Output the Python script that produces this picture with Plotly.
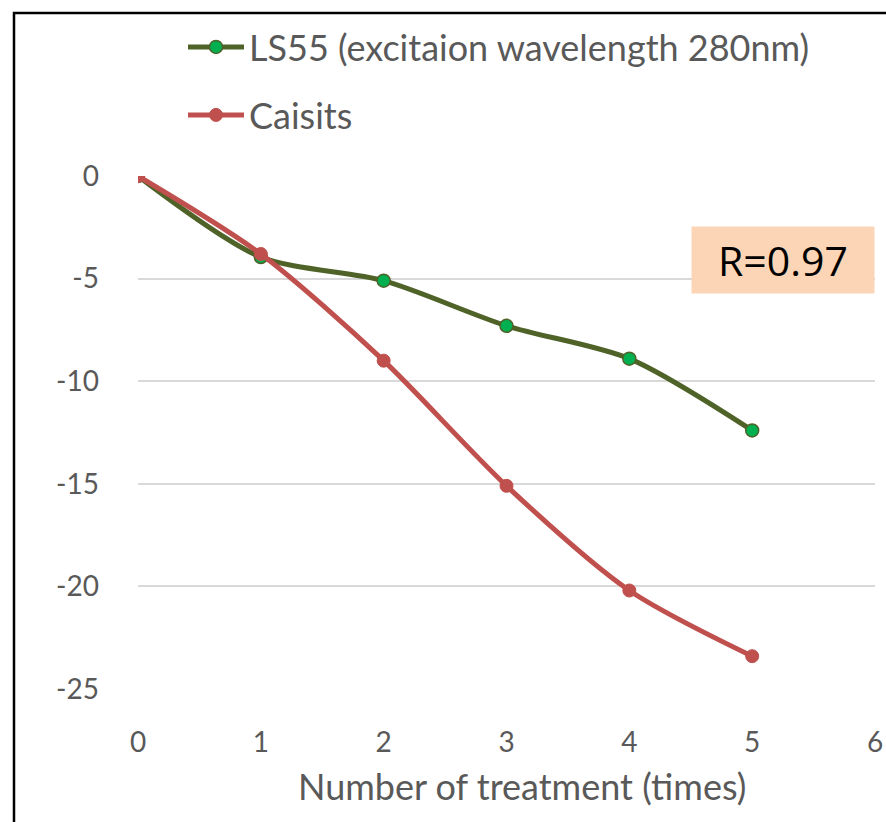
import plotly.graph_objects as go

treatments = [0, 1, 2, 3, 4, 5]
ls55_values = [0, -3.95, -5.1, -7.3, -8.9, -12.4]
caisits_values = [0, -3.8, -9.0, -15.1, -20.2, -23.4]
x_ticks = [0, 1, 2, 3, 4, 5, 6]
y_ticks = [0, -5, -10, -15, -20, -25]
y_tick_labels = ["0", "-5", "-10", "-15", "-20", "-25"]

GREY = "#595959"
FONT = "Lato"

# plot area in page pixels
PX0, PX1, PY0, PY1 = 138, 875, 176, 689
PW, PH = PX1 - PX0, PY1 - PY0


def px(x):
    return (x - PX0) / PW


def py(y):
    return (PY1 - y) / PH


fig = go.Figure()

fig.add_trace(go.Scatter(
    x=treatments, y=ls55_values,
    name="LS55 (excitaion wavelength 280nm)",
    mode="lines+markers",
    line=dict(color="#4F6228", width=5, shape="spline", smoothing=0.8),
    marker=dict(size=13, color="#00B050", line=dict(color="#4F6228", width=1.5)),
    legend="legend",
))
fig.add_trace(go.Scatter(
    x=treatments, y=caisits_values,
    name="Caisits",
    mode="lines+markers",
    line=dict(color="#C0504D", width=5, shape="spline", smoothing=0.8),
    marker=dict(size=13, color="#C0504D", line=dict(color="#C0504D", width=1)),
    legend="legend2",
))

fig.update_layout(
    width=886, height=822,
    margin=dict(l=PX0, r=886 - PX1, t=PY0, b=822 - PY1, autoexpand=False),
    paper_bgcolor="white",
    plot_bgcolor="white",
    font=dict(family=FONT, color=GREY, size=24),
    legend=dict(
        x=px(183), y=py(47),
        xanchor="left", yanchor="middle",
        font=dict(size=36, color=GREY, family=FONT),
        bgcolor="rgba(0,0,0,0)", itemwidth=56,
    ),
    legend2=dict(
        x=px(183), y=py(115),
        xanchor="left", yanchor="middle",
        font=dict(size=36, color=GREY, family=FONT),
        bgcolor="rgba(0,0,0,0)", itemwidth=56,
    ),
    showlegend=True,
)

fig.update_xaxes(
    range=[0, 6],
    tickvals=x_ticks,
    showgrid=False, zeroline=False, showline=False,
    ticks="", ticklabelstandoff=34,
    tickfont=dict(size=28, color=GREY),
)
fig.update_yaxes(
    range=[-25, 0],
    tickvals=y_ticks, ticktext=y_tick_labels,
    showgrid=True, gridcolor="#D9D9D9", gridwidth=2,
    zeroline=False, showline=False,
    ticks="", ticklabelstandoff=38,
    tickfont=dict(size=28, color=GREY),
)

# x axis title, sits a little right of centre in the original
fig.add_annotation(
    x=px(522), y=py(786), xref="paper", yref="paper",
    xanchor="center", yanchor="middle",
    text="Number of treatment (times)", showarrow=False,
    font=dict(size=36, color=GREY, family=FONT),
)

# R value box
fig.add_annotation(
    x=1.0, y=py(260), xref="paper", yref="paper",
    xanchor="right", yanchor="middle",
    text="R=0.97", showarrow=False,
    font=dict(size=41, color="black", family="Open Sans"),
    bgcolor="#FBD5B5", borderpad=11, width=160, height=44,
)

# outer frame (cropped at right and bottom)
fig.add_shape(
    type="rect", xref="paper", yref="paper",
    x0=px(14), x1=1.1, y0=-0.4, y1=py(13),
    line=dict(color="black", width=2.5), layer="below",
)

fig.write_html(
    "out.html",
    config={"displayModeBar": False},
    post_script="document.body.style.margin='0';",
)
